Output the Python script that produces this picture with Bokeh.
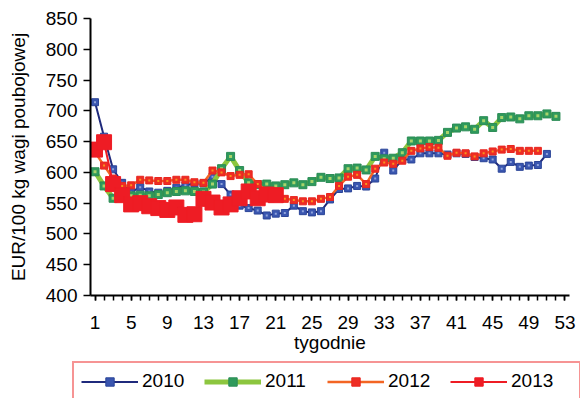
from bokeh.plotting import figure
from bokeh.layouts import column
from bokeh.models import FixedTicker, Legend, LegendItem, Range1d, ColumnDataSource
from bokeh.embed import file_html
from bokeh.resources import INLINE

# ---- data -------------------------------------------------------------
weeks_2010 = list(range(1, 52))
price_2010 = [714, 658, 605, 583, 568, 576, 569, 567, 570, 575, 579, 582, 582, 593, 581, 564,
              546, 542, 538, 530, 533, 534, 546, 537, 535, 537, 556, 573, 574, 578, 577, 590,
              632, 603, 621, 621, 631, 631, 631, 629, 631, 630, 625, 623, 621, 606, 617, 609,
              611, 612, 630]

weeks_2011 = list(range(1, 53))
price_2011 = [601, 578, 558, 561, 562, 563, 562, 564, 567, 569, 570, 569, 568, 581, 606, 626,
              603, 583, 580, 581, 578, 580, 583, 580, 585, 592, 590, 591, 606, 607, 604, 626,
              622, 623, 632, 651, 651, 651, 652, 665, 672, 674, 670, 684, 673, 689, 690, 687,
              692, 692, 695, 691]

weeks_2012 = list(range(1, 51))
price_2012 = [633, 611, 590, 578, 579, 588, 587, 586, 586, 588, 588, 584, 583, 603, 600, 594,
              596, 597, 581, 570, 562, 557, 555, 553, 553, 557, 560, 578, 593, 596, 581, 606,
              616, 614, 619, 635, 639, 641, 640, 627, 632, 631, 626, 631, 634, 637, 638, 635,
              635, 635]

weeks_2013 = list(range(1, 22))
price_2013 = [637, 649, 581, 563, 548, 550, 545, 542, 539, 543, 531, 532, 557, 551, 543, 548,
              558, 569, 558, 564, 563]

x_ticks = list(range(1, 54, 4))
y_ticks = list(range(400, 851, 50))
series_labels = ["2010", "2011", "2012", "2013"]

FONT = "Liberation Sans"

# styles: line colour, line width, marker size, marker fill, marker line, inner fill, inner size
STYLES = [
    ("#1f2a7c", 2, 7, "#3a56b0", "#2b4598", "#8fa3da", 2),
    ("#8cc63f", 5, 8, "#2f9a5c", "#2a8c55", "#a9d36b", 3),
    ("#f36523", 2.5, 7, "#ee2d24", "#e8261f", "#f7941d", 2),
    ("#ee1c24", 2, 15, "#ee1c24", "#ee1c24", None, 0),
]

p = figure(width=580, height=361,
           x_range=Range1d(0.5, 53.5), y_range=Range1d(400, 850),
           output_backend="svg", toolbar_location=None,
           min_border_left=90, min_border_right=11, min_border_top=18, min_border_bottom=66)
p.outline_line_color = None
p.xgrid.grid_line_color = None
p.ygrid.grid_line_color = None
p.background_fill_color = "white"
p.border_fill_color = "white"

# axes
p.xaxis.ticker = FixedTicker(ticks=x_ticks, minor_ticks=list(range(1, 54)))
p.yaxis.ticker = FixedTicker(ticks=y_ticks, minor_ticks=[])
for ax in (p.xaxis[0], p.yaxis[0]):
    ax.axis_line_color = "black"
    ax.axis_line_width = 2
    ax.major_tick_line_color = "black"
    ax.major_tick_line_width = 1.5
    ax.minor_tick_line_color = "black"
    ax.minor_tick_line_width = 1.5
    ax.major_tick_in = 0
    ax.minor_tick_in = 0
    ax.major_label_text_font = FONT
    ax.major_label_text_font_size = "19px"
    ax.major_label_text_color = "black"
    ax.axis_label_text_font = FONT
    ax.axis_label_text_font_size = "19px"
    ax.axis_label_text_font_style = "normal"
    ax.axis_label_text_color = "black"

p.xaxis.major_tick_out = 5
p.xaxis.minor_tick_out = 5
p.xaxis.major_label_standoff = 15
p.xaxis.axis_label = "tygodnie"
p.xaxis.axis_label_standoff = 0

p.yaxis.major_tick_out = 7
p.yaxis.minor_tick_out = 0
p.yaxis.major_label_standoff = 6
p.yaxis.axis_label = "EUR/100 kg wagi poubojowej"
p.yaxis.axis_label_standoff = 14


def series(fig, x, y, style):
    lc, lw, msize, mfill, mline, inner, isize = style
    src = ColumnDataSource(dict(x=x, y=y))
    rs = [fig.line("x", "y", source=src, line_color=lc, line_width=lw)]
    rs.append(fig.scatter("x", "y", source=src, marker="square", size=msize,
                          fill_color=mfill, line_color=mline, line_width=1))
    if inner:
        rs.append(fig.scatter("x", "y", source=src, marker="square", size=isize,
                              fill_color=inner, line_color=None))
    return rs


data = [(weeks_2010, price_2010), (weeks_2011, price_2011),
        (weeks_2012, price_2012), (weeks_2013, price_2013)]
for (wx, wy), st in zip(data, STYLES):
    series(p, wx, wy, st)

# ---- legend strip (separate figure below the chart) -------------------
# Same x scale as the chart; its y range (0..1) lies far below the prices,
# so the series themselves fall outside this strip and only the legend shows.
lg = figure(width=580, height=37, x_range=Range1d(0.5, 53.5), y_range=Range1d(0, 1),
            x_axis_type=None, y_axis_type=None,
            output_backend="svg", toolbar_location=None,
            min_border_left=0, min_border_right=0, min_border_top=0, min_border_bottom=0)
lg.outline_line_color = None
lg.xgrid.grid_line_color = None
lg.ygrid.grid_line_color = None
lg.border_fill_color = "white"
lg.background_fill_color = "white"
if "frame_align" in lg.properties():
    lg.frame_align = False
    p.frame_align = False

items = []
for lab, (wx, wy), st in zip(series_labels, data, STYLES):
    lc, lw, msize, mfill, mline, inner, isize = st
    src = ColumnDataSource(dict(x=wx, y=wy))
    r_line = lg.line("x", "y", source=src, line_color=lc, line_width=lw)
    r_mark = lg.scatter("x", "y", source=src, marker="square", size=msize,
                        fill_color=mfill, line_color=mline, line_width=1)
    items.append(LegendItem(label=lab, renderers=[r_line, r_mark]))

legend = Legend(items=items, location=(72, -3), orientation="horizontal")
legend.padding = 7
legend.spacing = 1
legend.glyph_width = 57
legend.glyph_height = 21
legend.label_height = 21
legend.label_width = 61
legend.label_standoff = 4
legend.label_text_font = FONT
legend.label_text_font_size = "19px"
legend.label_text_color = "black"
legend.border_line_color = "#ee2a2a"
legend.border_line_width = 2
legend.background_fill_color = "white"
legend.background_fill_alpha = 1
legend.margin = 0
lg.add_layout(legend)

layout = column(p, lg, spacing=0)
open("out.html", "w").write(file_html(layout, INLINE))
